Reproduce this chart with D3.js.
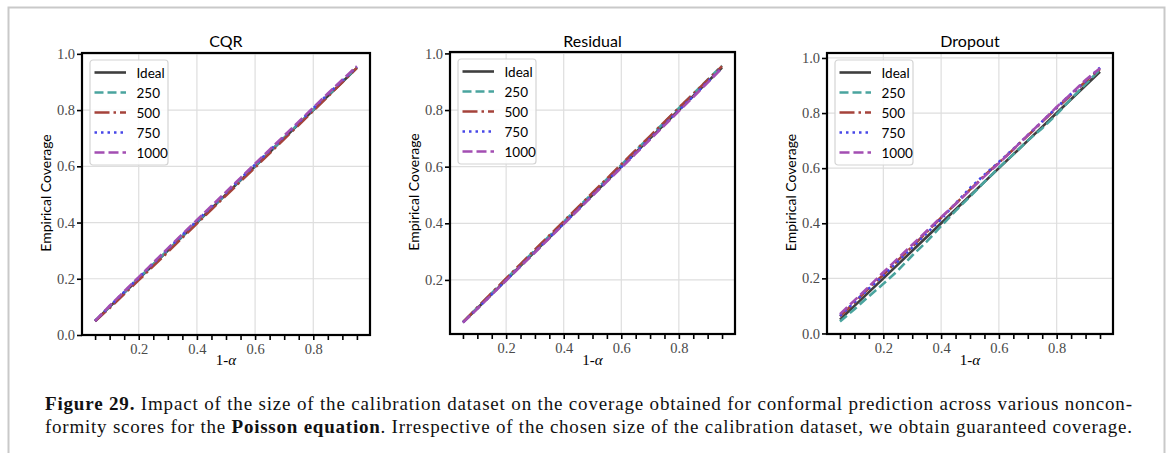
<!DOCTYPE html>
<html>
<head>
<meta charset="utf-8">
<script src="https://cdn.jsdelivr.net/npm/d3@7"></script>
<style>
  body { margin: 0; background: #fff; }
  svg { display: block; }
</style>
</head>
<body>
<div id="fig"></div>
<script>
(function(){

// shared data
var alphas = [0.05, 0.10, 0.15, 0.20, 0.25, 0.30, 0.35, 0.40, 0.45, 0.50,
              0.55, 0.60, 0.65, 0.70, 0.75, 0.80, 0.85, 0.90, 0.95]
var sizes = ["Ideal", "250", "500", "750", "1000"]
var panelNames = ["CQR", "Residual", "Dropout"]

// empirical coverage, one array per calibration size
var cqr250  = [0.050, 0.101, 0.151, 0.202, 0.252, 0.302, 0.352, 0.402, 0.452, 0.502, 0.552, 0.602, 0.652, 0.702, 0.752, 0.802, 0.852, 0.902, 0.952]
var cqr500  = [0.049, 0.096, 0.146, 0.195, 0.245, 0.295, 0.346, 0.396, 0.446, 0.496, 0.546, 0.596, 0.646, 0.697, 0.747, 0.797, 0.848, 0.899, 0.950]
var cqr750  = [0.050, 0.102, 0.153, 0.204, 0.255, 0.306, 0.356, 0.406, 0.456, 0.506, 0.556, 0.606, 0.656, 0.706, 0.756, 0.806, 0.856, 0.905, 0.954]
var cqr1000 = [0.050, 0.104, 0.155, 0.206, 0.257, 0.308, 0.359, 0.409, 0.459, 0.509, 0.559, 0.609, 0.659, 0.709, 0.759, 0.809, 0.859, 0.908, 0.956]

var res250  = [0.050, 0.102, 0.153, 0.204, 0.254, 0.305, 0.355, 0.405, 0.456, 0.506, 0.556, 0.606, 0.657, 0.707, 0.757, 0.807, 0.857, 0.907, 0.957]
var res500  = [0.051, 0.103, 0.154, 0.205, 0.256, 0.307, 0.357, 0.407, 0.457, 0.508, 0.558, 0.608, 0.658, 0.708, 0.758, 0.808, 0.857, 0.906, 0.955]
var res750  = [0.050, 0.099, 0.149, 0.199, 0.249, 0.299, 0.349, 0.399, 0.449, 0.499, 0.549, 0.599, 0.649, 0.699, 0.749, 0.799, 0.849, 0.899, 0.950]
var res1000 = [0.049, 0.098, 0.148, 0.198, 0.248, 0.297, 0.347, 0.397, 0.447, 0.497, 0.547, 0.596, 0.646, 0.696, 0.746, 0.796, 0.846, 0.897, 0.948]

var drop250  = [0.043, 0.088, 0.135, 0.180, 0.228, 0.283, 0.333, 0.390, 0.445, 0.497, 0.550, 0.602, 0.650, 0.700, 0.745, 0.795, 0.852, 0.905, 0.958]
var drop500  = [0.062, 0.112, 0.165, 0.213, 0.265, 0.315, 0.368, 0.420, 0.470, 0.522, 0.573, 0.620, 0.668, 0.718, 0.768, 0.818, 0.866, 0.915, 0.960]
var drop750  = [0.064, 0.114, 0.163, 0.210, 0.262, 0.312, 0.364, 0.415, 0.472, 0.528, 0.576, 0.622, 0.670, 0.720, 0.770, 0.820, 0.870, 0.916, 0.965]
var drop1000 = [0.070, 0.120, 0.170, 0.222, 0.272, 0.322, 0.372, 0.422, 0.470, 0.520, 0.570, 0.618, 0.668, 0.720, 0.770, 0.822, 0.870, 0.920, 0.963]

var series = {
  "CQR":      [alphas, cqr250, cqr500, cqr750, cqr1000],
  "Residual": [alphas, res250, res500, res750, res1000],
  "Dropout":  [alphas, drop250, drop500, drop750, drop1000]
}
var yTicks = {
  "CQR":      [0.0, 0.2, 0.4, 0.6, 0.8, 1.0],
  "Residual": [0.2, 0.4, 0.6, 0.8, 1.0],
  "Dropout":  [0.0, 0.2, 0.4, 0.6, 0.8, 1.0]
}
var xTicks = [0.2, 0.4, 0.6, 0.8]

// styling / layout
var colors = ["#3f3f3f", "#4aa49e", "#a5433b", "#4747e8", "#a34eb2"]
var dashes = [null, "9,4", "15,4,2.5,4", "2.5,4", "10,4"]
var boxes = {
  "CQR":      {left: 82,  right: 370,  top: 53, bottom: 335, ylim: [0.0, 1.003]},
  "Residual": {left: 450, right: 735,  top: 52, bottom: 334, ylim: [0.009, 1.005]},
  "Dropout":  {left: 827, right: 1113, top: 53, bottom: 334, ylim: [-0.002, 1.018]}
}

var svg = d3.select("#fig").append("svg")
    .attr("width", 1168)
    .attr("height", 453)

// thin frame around the figure
svg.append("path")
    .attr("d", "M8.5,453 V7.5 H1164.5 V453")
    .attr("fill", "none")
    .attr("stroke", "#c9c9c9")
    .attr("stroke-width", 2)

panelNames.forEach(function(name){
  var b = boxes[name]
  var x = d3.scaleLinear().domain([0.005, 0.995]).range([b.left, b.right])
  var y = d3.scaleLinear().domain(b.ylim).range([b.bottom, b.top])
  var g = svg.append("g")

  // grid
  g.selectAll(".vgrid").data(xTicks).enter().append("line")
      .attr("x1", d => x(d)).attr("x2", d => x(d))
      .attr("y1", b.top).attr("y2", b.bottom)
      .attr("stroke", "#dedede").attr("stroke-width", 1.2)
  g.selectAll(".hgrid").data(yTicks[name]).enter().append("line")
      .attr("x1", b.left).attr("x2", b.right)
      .attr("y1", d => y(d)).attr("y2", d => y(d))
      .attr("stroke", "#dedede").attr("stroke-width", 1.2)

  // lines
  var line = d3.line()
      .x(function(d, i) { return x(alphas[i]) })
      .y(function(d) { return y(d) })
  series[name].forEach(function(vals, k){
    g.append("path")
        .datum(vals)
        .attr("d", line)
        .attr("fill", "none")
        .attr("stroke", colors[k])
        .attr("stroke-width", 2.6)
        .attr("stroke-dasharray", dashes[k])
  })

  // axes
  var xAxis = d3.axisBottom(x).tickValues(alphas).tickSize(5).tickSizeOuter(0)
      .tickFormat(d => xTicks.some(t => Math.abs(t - d) < 1e-9) ? d3.format(".1f")(d) : "")
  var yAxis = d3.axisLeft(y).tickValues(yTicks[name]).tickSize(5).tickSizeOuter(0)
      .tickFormat(d3.format(".1f"))
  var gx = g.append("g").attr("transform", "translate(0," + b.bottom + ")").call(xAxis)
  var gy = g.append("g").attr("transform", "translate(" + b.left + ",0)").call(yAxis)
  ;[gx, gy].forEach(function(a){
    a.select(".domain").remove()
    a.selectAll(".tick line").attr("stroke", "#000").attr("stroke-width", 1.6)
    a.selectAll(".tick text")
        .attr("fill", "#4a4a4a")
        .style("font-family", "'Liberation Serif', serif")
        .style("font-size", "14.5px")
  })
  gx.selectAll(".tick text").attr("dy", "0.85em").attr("y", 7)
  gy.selectAll(".tick text").attr("x", -7)

  // frame
  g.append("rect")
      .attr("x", b.left).attr("y", b.top)
      .attr("width", b.right - b.left).attr("height", b.bottom - b.top)
      .attr("fill", "none").attr("stroke", "#000").attr("stroke-width", 2.2)

  // title and labels
  var cx = (b.left + b.right) / 2
  g.append("text").attr("x", cx).attr("y", 47)
      .attr("text-anchor", "middle")
      .style("font-family", "Lato, sans-serif").style("font-size", "16px")
      .text(name)
  var xl = g.append("text").attr("x", cx).attr("y", 365)
      .attr("text-anchor", "middle")
      .style("font-family", "'Liberation Serif', serif").style("font-size", "15px")
  xl.append("tspan").text("1-")
  xl.append("tspan").style("font-style", "italic").text("α")
  g.append("text")
      .attr("transform", "translate(" + (b.left - 31) + "," + ((b.top + b.bottom) / 2 - 1) + ") rotate(-90)")
      .attr("text-anchor", "middle")
      .style("font-family", "Lato, sans-serif").style("font-size", "14px")
      .text("Empirical Coverage")

  // legend
  var lx = b.left + 8, ly = b.top + 7
  var lg = g.append("g").attr("transform", "translate(" + lx + "," + ly + ")")
  lg.append("rect")
      .attr("width", 78).attr("height", 105).attr("rx", 3)
      .attr("fill", "#fff").attr("fill-opacity", 0.85)
      .attr("stroke", "#d4d4d4").attr("stroke-width", 1.2)
  sizes.forEach(function(s, k){
    var yy = 12.5 + k * 20
    lg.append("line")
        .attr("x1", 4.5).attr("x2", 36).attr("y1", yy).attr("y2", yy)
        .attr("stroke", colors[k]).attr("stroke-width", 2.6)
        .attr("stroke-dasharray", dashes[k])
    lg.append("text")
        .attr("x", 46.5).attr("y", yy + 5)
        .style("font-family", "Lato, sans-serif").style("font-size", "13.5px")
        .text(s)
  })
})

// caption, justified
var captionLines = [
  [["Figure 29.", true], [" Impact of the size of the calibration dataset on the coverage obtained for conformal prediction across various noncon-", false]],
  [["formity scores for the ", false], ["Poisson equation", true], [". Irrespective of the chosen size of the calibration dataset, we obtain guaranteed coverage.", false]]
]
var capLeft = 45, capRight = 1132
captionLines.forEach(function(parts, i){
  var t = svg.append("text")
      .attr("x", capLeft).attr("y", 410 + i * 23)
      .style("font-family", "'Liberation Serif', serif")
      .style("font-size", "19px")
      .attr("fill", "#111")
  parts.forEach(function(p){
    t.append("tspan").style("font-weight", p[1] ? "bold" : "normal").text(p[0])
  })
  var str = parts.map(p => p[0]).join("")
  var w = t.node().getComputedTextLength()
  var extra = capRight - capLeft - w
  if (extra > 0) t.style("letter-spacing", (extra / (str.length - 1)) + "px")
})

})();
</script>
</body>
</html>
